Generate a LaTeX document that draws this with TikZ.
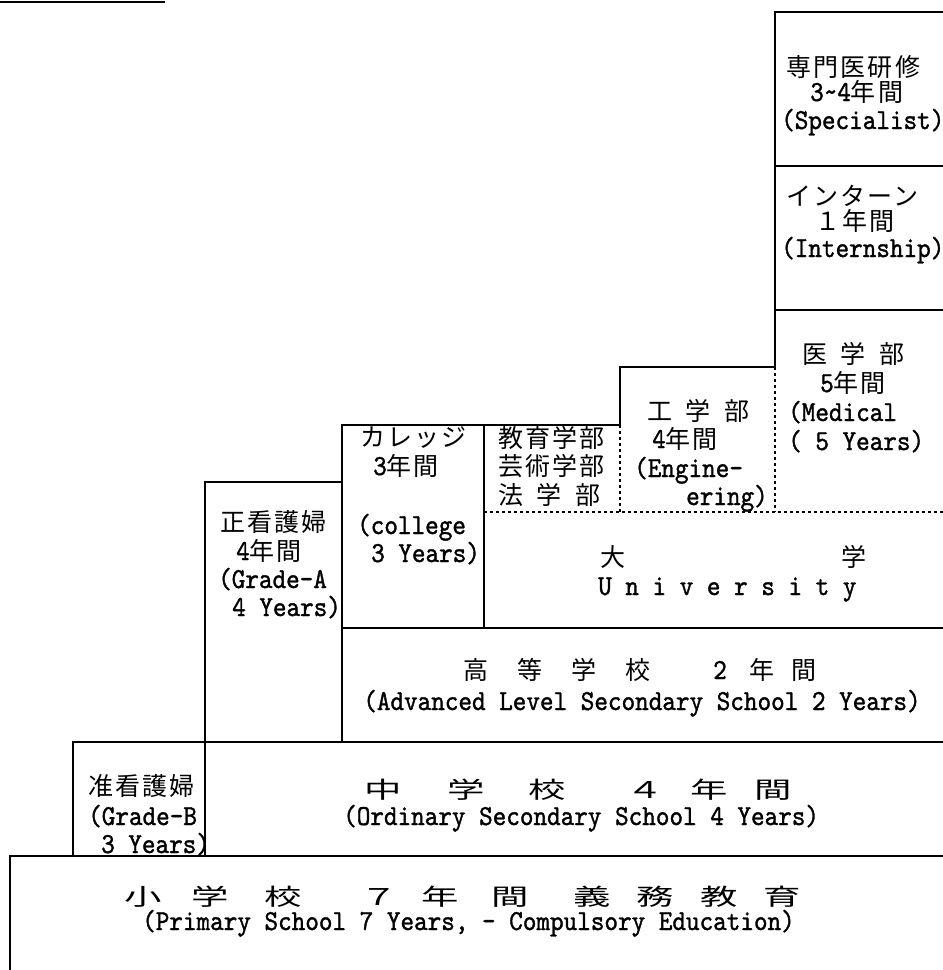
\documentclass[tikz,border=0pt]{standalone}
\usepackage{fontspec}
\usepackage{graphicx}
\newfontfamily\latf{lmmono10-regular}[Extension=.otf, FakeStretch=0.893, FakeBold=1.2]
\newfontfamily\jpf{Noto Sans CJK JP}[LetterSpace=8.8]
\newfontfamily\jpbig{Noto Sans CJK JP}
\newcommand\J[1]{{\fontsize{25}{28}\selectfont\jpf #1}}
\newcommand\hs{\hspace{13.6pt}}
\newcommand\BG[1]{\scalebox{1.7}[1.05]{#1}}
\tikzset{
 txt/.style={anchor=base west, inner sep=0pt, font=\fontsize{29}{30}\selectfont\latf},
 ctxt/.style={anchor=base, inner sep=0pt, font=\fontsize{29}{30}\selectfont\latf},
 jch/.style={anchor=base, inner sep=0pt, font=\fontsize{25}{28}\selectfont\jpbig},
 bigc/.style={anchor=base, inner sep=0pt, font=\fontsize{22}{24}\selectfont\jpbig},
 rule/.style={line width=1.3pt, black},
 dotline/.style={line width=1.2pt, black, dash pattern=on 3pt off 3pt},
}
\begin{document}
\begin{tikzpicture}[x=1pt,y=-1pt]
\useasboundingbox (0,0) rectangle (943,970);
% lines
\draw[rule] (0,2) -- (165,2);
\draw[rule] (943,12) -- (775,12) -- (775,367) -- (620,367) -- (620,425);
\draw[rule] (775,166) -- (943,166);
\draw[rule] (775,310) -- (943,310);
\draw[rule] (620,425) -- (342,425) -- (342,742);
\draw[rule] (484,425) -- (484,628);
\draw[dotline] (775,367) -- (775,512);
\draw[dotline] (620,425) -- (620,512);
\draw[dotline] (484,512) -- (943,512);
\draw[rule] (342,628) -- (943,628);
\draw[rule] (342,482) -- (205,482) -- (205,856);
\draw[rule] (73,856) -- (73,742) -- (943,742);
\draw[rule] (943,856) -- (10,856) -- (10,970);
% specialist
\node[txt] (sp1) at (786,76) {\J{専門医研修}};
\node[txt] (sp2) at (810,101) {3\textasciitilde4\J{年間}};
\node[txt] (sp3) at (781,129) {(Specialist)};
% internship
\node[txt] (in1) at (786,205) {\J{インターン}};
\node[txt] (in2) at (815,230) {\J{１年間}};
\node[txt] (in3) at (781,257) {(Internship)};
% medical
\node[txt] (md1) at (802,363) {\J{医}\hs\J{学}\hs\J{部}};
\node[txt] (md2) at (820,392) {5\J{年間}};
\node[txt] (md3) at (788,421) {(Medical};
\node[txt] (md4) at (788,450) {( 5 Years)};
% engineering
\node[txt] (en1) at (647,420) {\J{工}\hs\J{学}\hs\J{部}};
\node[txt] (en2) at (652,448) {4\J{年間}};
\node[txt] (en3) at (634,477) {(Engine-};
\node[txt] (en4) at (686,505) {ering)};
% education etc
\node[txt] (ed1) at (498,447) {\J{教育学部}};
\node[txt] (ed2) at (498,475) {\J{芸術学部}};
\node[txt] (ed3) at (498,504) {\J{法}\hs\J{学}\hs\J{部}};
% college
\node[txt] (co1) at (360,446) {\J{カレッジ}};
\node[txt] (co2) at (373,475) {3\J{年間}};
\node[txt] (co3) at (357,534) {(college};
\node[txt] (co4) at (371,562) {3 Years)};
% grade A
\node[txt] (ga1) at (220,531) {\J{正看護婦}};
\node[txt] (ga2) at (236,560) {4\J{年間}};
\node[txt] (ga3) at (218,588) {(Grade-A};
\node[txt] (ga4) at (232,616) {4 Years)};
% university
\node[jch] (un1) at (613,566) {大};
\node[jch] (un2) at (854,566) {学};
\node[txt] (un3) at (598,595) {U n i v e r s i t y};
% high school
\foreach \c/\x [count=\i] in {高/476,等/530,学/584,校/638,年/762,間/804}
  \node[jch] (hj\i) at (\x,679) {\c};
\node[ctxt] (hj7) at (720,679) {2};
\node[ctxt] (he) at (642,710) {(Advanced Level Secondary School 2 Years)};
% middle school
\foreach \c/\x [count=\i] in {中/383,学/466,校/547,４/645,年/709,間/773}
  \node[bigc] (ms\i) at (\x,798) {\BG{\c}};
\node[txt] (me) at (343,825) {(Ordinary Secondary School 4 Years)};
% grade B
\node[txt] (gb1) at (88,795) {\J{准看護婦}};
\node[txt] (gb2) at (88,825) {(Grade-B};
\node[txt] (gb3) at (101,853) {3 Years)};
% primary
\foreach \c/\x [count=\i] in {小/143,学/210,校/283,７/379,年/440,間/510,義/592,務/655,教/719,育/782}
  \node[bigc] (ps\i) at (\x,905) {\BG{\c}};
\node[txt] (pe) at (142,930) {(Primary School 7 Years, - Compulsory Education)};
\end{tikzpicture}
\end{document}
